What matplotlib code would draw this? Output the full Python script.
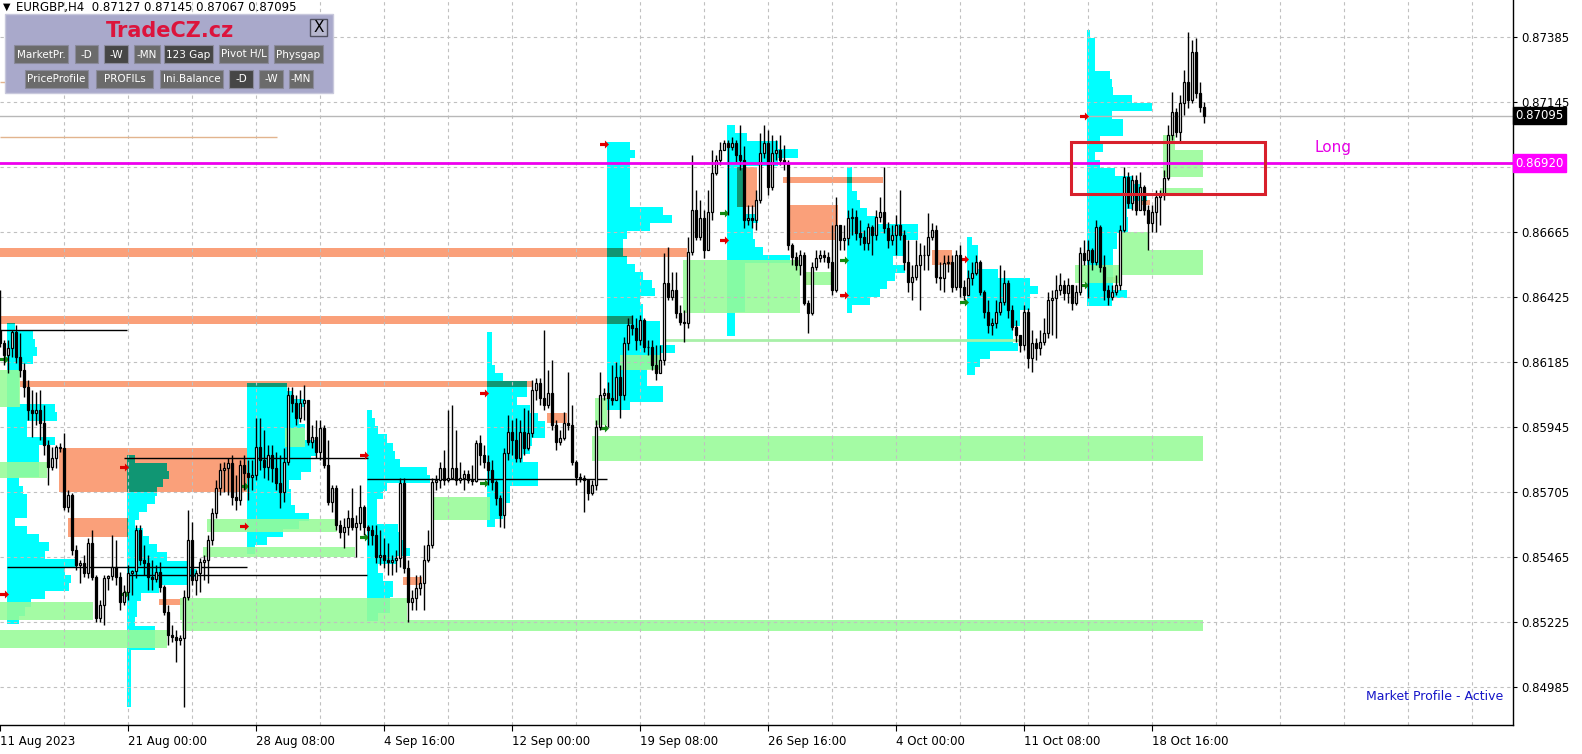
#!/usr/bin/env python3
"""Redraw the EURGBP H4 market profile chart (TradeCZ.cz panel) as out.png."""

import matplotlib

matplotlib.use("Agg")

import matplotlib.pyplot as plt
import numpy as np
from matplotlib.patches import Rectangle
from matplotlib.path import Path

FIG_W, FIG_H = 1582, 754

# --- candles (H4 bars, one per index) -------------------------------------
FIRST_OPEN = 0.86304
CLOSES = [
    0.86255, 0.86211, 0.86237, 0.86296, 0.86204, 0.86156, 0.86093, 0.86008, 0.85997, 0.86008,
    0.85960, 0.85879, 0.85798, 0.85831, 0.85872, 0.85868, 0.85650, 0.85694, 0.85491, 0.85436,
    0.85443, 0.85406, 0.85517, 0.85392, 0.85240, 0.85288, 0.85388, 0.85395, 0.85429, 0.85392,
    0.85299, 0.85336, 0.85406, 0.85414, 0.85565, 0.85454, 0.85443, 0.85392, 0.85384, 0.85410,
    0.85355, 0.85262, 0.85177, 0.85170, 0.85159, 0.85166, 0.85318, 0.85528, 0.85380, 0.85406,
    0.85447, 0.85454, 0.85528, 0.85628, 0.85720, 0.85787, 0.85794, 0.85812, 0.85687, 0.85676,
    0.85805, 0.85775, 0.85761, 0.85768, 0.85872, 0.85824, 0.85798, 0.85842, 0.85794, 0.85739,
    0.85705, 0.85816, 0.86063, 0.86034, 0.85979, 0.86034, 0.86045, 0.85890, 0.85909, 0.85853,
    0.85942, 0.85805, 0.85668, 0.85720, 0.85584, 0.85558, 0.85576, 0.85609, 0.85576, 0.85591,
    0.85650, 0.85576, 0.85565, 0.85547, 0.85465, 0.85473, 0.85454, 0.85447, 0.85454, 0.85462,
    0.85739, 0.85425, 0.85299, 0.85314, 0.85351, 0.85369, 0.85454, 0.85510, 0.85742, 0.85750,
    0.85794, 0.85750, 0.85757, 0.85794, 0.85750, 0.85757, 0.85772, 0.85750, 0.85746, 0.85886,
    0.85842, 0.85816, 0.85787, 0.85742, 0.85683, 0.85620, 0.85850, 0.85927, 0.85897, 0.85831,
    0.85927, 0.85868, 0.85923, 0.86082, 0.86108, 0.86052, 0.86027, 0.86071, 0.85953, 0.85890,
    0.85905, 0.85960, 0.85953, 0.85816, 0.85761, 0.85757, 0.85750, 0.85702, 0.85731, 0.85946,
    0.86063, 0.86071, 0.86052, 0.86045, 0.86130, 0.86063, 0.86255, 0.86322, 0.86311, 0.86267,
    0.86341, 0.86241, 0.86241, 0.86174, 0.86145, 0.86193, 0.86477, 0.86425, 0.86451, 0.86366,
    0.86333, 0.86330, 0.86592, 0.86747, 0.86647, 0.86717, 0.86599, 0.86739, 0.86883, 0.86931,
    0.86968, 0.86994, 0.86979, 0.86994, 0.86950, 0.86931, 0.86710, 0.86717, 0.86710, 0.86784,
    0.86957, 0.86994, 0.86832, 0.86957, 0.86968, 0.86931, 0.86920, 0.86617, 0.86573, 0.86544,
    0.86581, 0.86403, 0.86366, 0.86536, 0.86570, 0.86581, 0.86573, 0.86555, 0.86451, 0.86691,
    0.86636, 0.86643, 0.86717, 0.86721, 0.86662, 0.86647, 0.86625, 0.86684, 0.86654, 0.86721,
    0.86739, 0.86680, 0.86636, 0.86654, 0.86691, 0.86654, 0.86555, 0.86481, 0.86499, 0.86544,
    0.86581, 0.86581, 0.86647, 0.86673, 0.86499, 0.86496, 0.86551, 0.86555, 0.86462, 0.86581,
    0.86462, 0.86433, 0.86496, 0.86514, 0.86555, 0.86444, 0.86370, 0.86322, 0.86330, 0.86370,
    0.86407, 0.86477, 0.86377, 0.86315, 0.86285, 0.86248, 0.86370, 0.86200, 0.86255, 0.86237,
    0.86259, 0.86292, 0.86414, 0.86422, 0.86451, 0.86470, 0.86440, 0.86470, 0.86403, 0.86444,
    0.86588, 0.86562, 0.86599, 0.86555, 0.86684, 0.86536, 0.86451, 0.86425, 0.86444, 0.86470,
    0.86673, 0.86869, 0.86773, 0.86857, 0.86747, 0.86832, 0.86747, 0.86699, 0.86739, 0.86795,
    0.86802, 0.86865, 0.87024, 0.87108, 0.87035, 0.87142, 0.87219, 0.87153, 0.87330, 0.87179,
    0.87127, 0.87095,
]
HIGHS = [
    0.86451, 0.86267, 0.86267, 0.86304, 0.86322, 0.86292, 0.86182, 0.86119, 0.86082, 0.86075,
    0.86082, 0.86027, 0.85897, 0.85872, 0.85879, 0.85886, 0.85923, 0.85713, 0.85702, 0.85510,
    0.85454, 0.85473, 0.85536, 0.85565, 0.85399, 0.85307, 0.85399, 0.85399, 0.85547, 0.85528,
    0.85410, 0.85362, 0.85436, 0.85417, 0.85584, 0.85584, 0.85510, 0.85473, 0.85454, 0.85436,
    0.85447, 0.85362, 0.85288, 0.85214, 0.85196, 0.85177, 0.85344, 0.85639, 0.85595, 0.85417,
    0.85462, 0.85473, 0.85547, 0.85646, 0.85750, 0.85812, 0.85816, 0.85831, 0.85842, 0.85768,
    0.85824, 0.85842, 0.85824, 0.85824, 0.85979, 0.85979, 0.85934, 0.85879, 0.85879, 0.85853,
    0.85842, 0.85868, 0.86093, 0.86093, 0.86063, 0.86082, 0.86100, 0.86045, 0.85953, 0.85971,
    0.85971, 0.85953, 0.85897, 0.85731, 0.85731, 0.85602, 0.85609, 0.85639, 0.85720, 0.85620,
    0.85731, 0.85657, 0.85584, 0.85584, 0.85584, 0.85565, 0.85536, 0.85517, 0.85473, 0.85491,
    0.85757, 0.85757, 0.85454, 0.85344, 0.85399, 0.85399, 0.85510, 0.85565, 0.85757, 0.85768,
    0.85816, 0.85861, 0.86008, 0.86027, 0.85934, 0.85816, 0.85787, 0.85787, 0.85805, 0.85897,
    0.85916, 0.85879, 0.85842, 0.85824, 0.85750, 0.85694, 0.85868, 0.85990, 0.85971, 0.85979,
    0.85971, 0.86016, 0.86008, 0.86119, 0.86126, 0.86126, 0.86304, 0.86156, 0.86193, 0.85971,
    0.85934, 0.86001, 0.86149, 0.86027, 0.85824, 0.85776, 0.85768, 0.85750, 0.85750, 0.85971,
    0.86149, 0.86089, 0.86112, 0.86174, 0.86186, 0.86174, 0.86278, 0.86348, 0.86359, 0.86348,
    0.86359, 0.86348, 0.86267, 0.86267, 0.86248, 0.86248, 0.86588, 0.86610, 0.86518, 0.86518,
    0.86396, 0.86377, 0.86647, 0.86950, 0.86821, 0.86784, 0.86747, 0.86821, 0.86968, 0.86950,
    0.86998, 0.87005, 0.87005, 0.87016, 0.87005, 0.87061, 0.86984, 0.86765, 0.86765, 0.86821,
    0.87031, 0.87061, 0.87042, 0.87024, 0.87005, 0.87024, 0.86987, 0.86931, 0.86625, 0.86592,
    0.86599, 0.86592, 0.86414, 0.86555, 0.86599, 0.86599, 0.86599, 0.86592, 0.86691, 0.86795,
    0.86673, 0.86691, 0.86747, 0.86754, 0.86747, 0.86710, 0.86673, 0.86699, 0.86691, 0.86747,
    0.86795, 0.86905, 0.86702, 0.86691, 0.86728, 0.86821, 0.86673, 0.86636, 0.86544, 0.86636,
    0.86625, 0.86617, 0.86736, 0.86699, 0.86691, 0.86555, 0.86581, 0.86581, 0.86581, 0.86599,
    0.86617, 0.86488, 0.86525, 0.86555, 0.86581, 0.86562, 0.86451, 0.86414, 0.86348, 0.86414,
    0.86544, 0.86525, 0.86488, 0.86396, 0.86341, 0.86285, 0.86396, 0.86385, 0.86304, 0.86274,
    0.86304, 0.86348, 0.86444, 0.86451, 0.86507, 0.86514, 0.86488, 0.86496, 0.86470, 0.86470,
    0.86610, 0.86636, 0.86636, 0.86606, 0.86710, 0.86691, 0.86581, 0.86470, 0.86470, 0.86507,
    0.86691, 0.86905, 0.86887, 0.86876, 0.86876, 0.86887, 0.86839, 0.86765, 0.86765, 0.86821,
    0.86821, 0.86894, 0.87061, 0.87182, 0.87123, 0.87171, 0.87264, 0.87404, 0.87374, 0.87382,
    0.87219, 0.87145,
]
LOWS = [
    0.86241, 0.86174, 0.86145, 0.86204, 0.86182, 0.86130, 0.86056, 0.85971, 0.85909, 0.85953,
    0.85897, 0.85842, 0.85731, 0.85787, 0.85794, 0.85853, 0.85639, 0.85632, 0.85473, 0.85417,
    0.85369, 0.85392, 0.85388, 0.85380, 0.85225, 0.85225, 0.85214, 0.85344, 0.85380, 0.85362,
    0.85270, 0.85288, 0.85307, 0.85325, 0.85388, 0.85436, 0.85399, 0.85344, 0.85344, 0.85373,
    0.85336, 0.85251, 0.85140, 0.85152, 0.85078, 0.85140, 0.84912, 0.85307, 0.85362, 0.85325,
    0.85336, 0.85380, 0.85369, 0.85510, 0.85609, 0.85694, 0.85705, 0.85694, 0.85657, 0.85639,
    0.85657, 0.85713, 0.85676, 0.85713, 0.85750, 0.85787, 0.85757, 0.85750, 0.85742, 0.85713,
    0.85646, 0.85668, 0.85805, 0.86001, 0.85953, 0.85964, 0.85971, 0.85879, 0.85868, 0.85831,
    0.85824, 0.85794, 0.85657, 0.85632, 0.85565, 0.85536, 0.85499, 0.85547, 0.85565, 0.85465,
    0.85565, 0.85547, 0.85510, 0.85510, 0.85443, 0.85436, 0.85425, 0.85399, 0.85399, 0.85410,
    0.85429, 0.85406, 0.85225, 0.85270, 0.85270, 0.85325, 0.85270, 0.85447, 0.85499, 0.85713,
    0.85720, 0.85731, 0.85742, 0.85757, 0.85731, 0.85739, 0.85713, 0.85739, 0.85731, 0.85742,
    0.85805, 0.85794, 0.85731, 0.85713, 0.85657, 0.85576, 0.85572, 0.85824, 0.85842, 0.85816,
    0.85816, 0.85842, 0.85861, 0.85909, 0.86045, 0.86027, 0.86008, 0.86016, 0.85934, 0.85861,
    0.85879, 0.85897, 0.85934, 0.85805, 0.85731, 0.85742, 0.85632, 0.85676, 0.85694, 0.85713,
    0.85934, 0.86045, 0.85946, 0.86027, 0.86045, 0.85979, 0.86045, 0.86230, 0.86285, 0.86230,
    0.86248, 0.86222, 0.86211, 0.86156, 0.86119, 0.86174, 0.86174, 0.86414, 0.86414, 0.86348,
    0.86322, 0.86259, 0.86311, 0.86580, 0.86636, 0.86636, 0.86570, 0.86691, 0.86710, 0.86876,
    0.86913, 0.86968, 0.86728, 0.86968, 0.86924, 0.86894, 0.86680, 0.86691, 0.86680, 0.86673,
    0.86773, 0.86939, 0.86802, 0.86821, 0.86931, 0.86913, 0.86894, 0.86599, 0.86544, 0.86525,
    0.86507, 0.86396, 0.86293, 0.86359, 0.86525, 0.86555, 0.86555, 0.86533, 0.86433, 0.86444,
    0.86599, 0.86599, 0.86617, 0.86654, 0.86636, 0.86617, 0.86599, 0.86599, 0.86581, 0.86636,
    0.86702, 0.86662, 0.86606, 0.86617, 0.86581, 0.86636, 0.86525, 0.86444, 0.86414, 0.86488,
    0.86377, 0.86525, 0.86525, 0.86636, 0.86477, 0.86451, 0.86444, 0.86518, 0.86444, 0.86451,
    0.86425, 0.86414, 0.86433, 0.86470, 0.86507, 0.86433, 0.86348, 0.86293, 0.86285, 0.86311,
    0.86359, 0.86396, 0.86348, 0.86304, 0.86259, 0.86222, 0.86230, 0.86163, 0.86149, 0.86193,
    0.86211, 0.86248, 0.86274, 0.86285, 0.86274, 0.86433, 0.86414, 0.86403, 0.86377, 0.86396,
    0.86433, 0.86544, 0.86422, 0.86525, 0.86544, 0.86518, 0.86414, 0.86396, 0.86414, 0.86433,
    0.86451, 0.86665, 0.86754, 0.86747, 0.86728, 0.86765, 0.86728, 0.86599, 0.86665, 0.86665,
    0.86691, 0.86784, 0.86857, 0.87005, 0.87016, 0.86998, 0.87097, 0.87123, 0.87142, 0.87160,
    0.87108, 0.87067,
]

# --- weekly volume profiles (cyan histograms) ------------------------------
PROFILE_START = [2, 32, 62, 92, 122, 152, 182, 212, 242, 272]
PROFILE_TOP = [0.86329, 0.85842, 0.86108, 0.86008, 0.86296, 0.86998, 0.87060, 0.86905, 0.86647, 0.87411]
PROFILE_ROW = 0.0003
PROFILE_WIDTHS = [
    [2, 6.5, 7, 7.5, 6.5, 3, 3, 3, 3, 3, 12, 12.5, 5, 5, 12, 8, 8, 8, 8, 3, 4, 5, 5, 5, 2, 5,
     8, 10.5, 9.5, 17.5, 14.5, 16, 15.5, 9.5, 6, 4.5, 3],
    [2, 10, 10.5, 9, 7.5, 7, 5, 3, 2, 4, 5.5, 7.5, 10, 15, 17.5, 15, 8, 3.5, 2.5, 2.5, 2, 7, 7,
     7, 1, 1, 1, 1, 1, 1, 1],
    [10, 11.5, 14.5, 13, 13, 14.5, 14.5, 17.5, 17.5, 16, 16, 13.5, 10.5, 11, 11, 12, 15.5, 13,
     9, 5, 2],
    [1.25, 2, 2.75, 5, 6.5, 7, 8.25, 15, 15.75, 5, 4, 2.5, 2.5, 2.5, 7.75, 8.25, 9, 10.75, 7.5,
     2.75, 4, 6.5, 6.5, 5.75, 5.75, 2.75],
    [1.25, 1.25, 1.25, 1.25, 2, 4, 10, 10, 7.5, 10.75, 12.75, 14.5, 14.5, 11.25, 10.75, 9,
     12.75, 12.75, 12.75, 5.75, 5.75, 4, 4, 2],
    [5.75, 7, 5.75, 5.75, 5.75, 5.75, 5.75, 5.75, 14, 16.25, 10.75, 5, 4, 4, 5, 7, 9, 11.25, 12,
     8.25, 9, 9, 13.25, 13.25, 13.25, 17, 13.25, 13.25, 10, 10, 14, 14, 5.75],
    [2, 5, 12.75, 17.75, 12.75, 4.5, 4.5, 4.5, 4.5, 4.5, 4.5, 7.75, 6.5, 6.5, 7, 9, 15.75, 4.5,
     4.5, 4.5, 4.5, 4.5, 4.5, 2, 2, 2],
    [1.25, 1.25, 1.25, 2.5, 3.25, 5, 7.5, 17.75, 17.75, 14, 14, 11.5, 14.5, 12, 10, 8.25, 5.75,
     1.25],
    [1.25, 2.75, 2.75, 2.75, 7.75, 15.75, 17.75, 15.75, 15.75, 13.25, 13.25, 11.5, 11.5, 12.75,
     5.75, 3.25, 2],
    [0.75, 2, 2, 2, 2, 5.75, 6.25, 6.5, 11.25, 16.25, 6.25, 9, 9, 3.25, 4, 2, 3.25, 7, 11.5,
     13.25, 15, 11.5, 10, 10.25, 10.25, 7.5, 7.5, 6.5, 6.5, 6.5, 6.5, 6.5, 10, 6.25],
]
RED_ARROW = [0.85329, 0.85798, 0.85580, 0.85842, 0.86071, 0.86990, 0.86636, 0.86433, 0.86566, 0.87094]
GREEN_ARROW = [0.86196, 0.85329, 0.85728, 0.85539, 0.85739, 0.85942, 0.86736, 0.86562, 0.86407, 0.86470]

# --- zones: (bar from, bar to, price low, price high) ----------------------
SALMON_ZONES = [
    (0, 171.75, 0.86573, 0.86606), (0, 158, 0.86326, 0.86355), (5, 133, 0.86093, 0.86115),
    (14.75, 61.75, 0.85705, 0.85868), (17, 32, 0.85539, 0.85609), (39.75, 45.5, 0.85288, 0.85310),
    (136.75, 141.75, 0.85960, 0.85997), (100.75, 105.5, 0.85362, 0.85392),
    (195.75, 220.75, 0.86846, 0.86869), (196.75, 209.5, 0.86636, 0.86765),
    (184.25, 189.25, 0.86758, 0.86905), (200.75, 203.25, 0.86470, 0.86518),
    (233, 238, 0.86544, 0.86599), (276.75, 278.75, 0.86477, 0.86499),
    (285.5, 287.5, 0.86765, 0.86784),
]
GREEN_ZONES = [
    (148, 300.75, 0.85820, 0.85912), (45.5, 300.75, 0.85192, 0.85233), (45, 101.75, 0.85233, 0.85314),
    (0, 41.75, 0.85129, 0.85196), (0, 23.25, 0.85233, 0.85299), (0, 11.75, 0.85757, 0.85816),
    (0, 5, 0.86019, 0.86156), (50.75, 88.75, 0.85465, 0.85502), (51.75, 84.25, 0.85558, 0.85606),
    (108, 122.5, 0.85602, 0.85687), (170.75, 200, 0.86366, 0.86562), (155, 165, 0.86156, 0.86211),
    (148.75, 151.75, 0.85953, 0.86052), (290.75, 300.75, 0.86869, 0.86968),
    (290.75, 293.75, 0.86968, 0.87024), (290, 300.75, 0.86802, 0.86828),
    (280, 300.75, 0.86507, 0.86599), (280, 287, 0.86599, 0.86665), (268.75, 280, 0.86477, 0.86544),
    (71.25, 76.25, 0.85872, 0.85942), (200.75, 208, 0.86470, 0.86518),
]
GREEN_LINE = (165.75, 255, 0.86267)
BLACK_LINES = [
    (0, 31.75, 0.86304), (1.75, 61.75, 0.85429), (31.75, 91.75, 0.85399),
    (31, 92, 0.85831), (91.75, 151.75, 0.85753),
]
TAN_LINES = [(0, 69.25, 0.87016), (0, 69.25, 0.87219)]

LAST_PRICE = 0.87095
LONG_LEVEL = 0.86920
LONG_BOX = (267.75, 316.25, 0.86806, 0.86998)

GRID_LEVELS = [0.84985, 0.85225, 0.85465, 0.85705, 0.85945, 0.86185, 0.86425, 0.86665,
               0.86905, 0.87145, 0.87385]
DATE_TICKS = [0, 32, 64, 96, 128, 160, 192, 224, 256, 288]
DATE_LABELS = ["11 Aug 2023", "21 Aug 00:00", "28 Aug 08:00", "4 Sep 16:00", "12 Sep 00:00",
               "19 Sep 08:00", "26 Sep 16:00", "4 Oct 00:00", "11 Oct 08:00", "18 Oct 16:00"]

CYAN = "#00FFFF"
SALMON = "#FAA07A"
TEAL = "#109673"
PALE_GREEN = "#98FB98"


def arrow_marker() -> Path:
    verts = [(-1, -0.35), (0.1, -0.35), (0.1, -0.9), (1, 0), (0.1, 0.9), (0.1, 0.35), (-1, 0.35), (-1, -0.35)]
    return Path(verts, closed=True)


def px_box(fig, x0, y0, x1, y1, **kw):
    fig.add_artist(Rectangle((x0 / FIG_W, 1 - y1 / FIG_H), (x1 - x0) / FIG_W, (y1 - y0) / FIG_H,
                             transform=fig.transFigure, **kw))


def px_text(fig, x, y, s, **kw):
    fig.text(x / FIG_W, 1 - y / FIG_H, s, **kw)


def draw_profiles(ax):
    rows = []
    for start, top, widths in zip(PROFILE_START, PROFILE_TOP, PROFILE_WIDTHS):
        left = start - 0.25
        for i, w in enumerate(widths):
            hi = top - i * PROFILE_ROW
            rows.append((left, left + w, hi - PROFILE_ROW, hi))
    for x0, x1, lo, hi in rows:
        ax.barh(lo, x1 - x0, left=x0, height=hi - lo, align="edge", color=CYAN, lw=0, zorder=1)

    for x0, x1, lo, hi in SALMON_ZONES:
        ax.barh(lo, x1 - x0, left=x0, height=hi - lo, align="edge", color=SALMON, lw=0, zorder=1.2)
        # where a zone crosses a profile the terminal paints it dark teal
        for r0, r1, rlo, rhi in rows:
            ox0, ox1 = max(x0, r0), min(x1, r1)
            olo, ohi = max(lo, rlo), min(hi, rhi)
            if ox1 > ox0 and ohi > olo:
                ax.barh(olo, ox1 - ox0, left=ox0, height=ohi - olo, align="edge", color=TEAL, lw=0, zorder=1.3)

    for x0, x1, lo, hi in GREEN_ZONES:
        ax.barh(lo, x1 - x0, left=x0, height=hi - lo, align="edge", color=PALE_GREEN, alpha=0.88,
                lw=0, zorder=1.4)
    ax.hlines(GREEN_LINE[2], GREEN_LINE[0], GREEN_LINE[1], color="#A8F0A8", lw=2, zorder=1.4)

    starts = np.array(PROFILE_START) - 0.9
    marker = arrow_marker()
    ax.scatter(starts, RED_ARROW, marker=marker, s=42, color="#E00000", lw=0, zorder=4)
    ax.scatter(starts, GREEN_ARROW, marker=marker, s=42, color="#138A13", lw=0, zorder=4)


def draw_candles(ax):
    closes = np.array(CLOSES)
    opens = np.r_[FIRST_OPEN, closes[:-1]]
    highs = np.maximum(np.array(HIGHS), np.maximum(opens, closes))
    lows = np.minimum(np.array(LOWS), np.minimum(opens, closes))
    x = np.arange(len(closes))
    up = closes >= opens

    ax.vlines(x, lows, highs, color="black", lw=1, zorder=5)
    ax.bar(x[up], (closes - opens)[up], bottom=opens[up], width=0.55, color="white",
           edgecolor="black", lw=0.9, zorder=6)
    ax.bar(x[~up], (closes - opens)[~up], bottom=opens[~up], width=0.55, color="black",
           edgecolor="black", lw=0.9, zorder=6)


def draw_panel(fig):
    px_text(fig, 3, 7, "\u25bc", fontsize=7, va="center", ha="left", color="black")
    px_text(fig, 16, 7, "EURGBP,H4  0.87127 0.87145 0.87067 0.87095", fontsize=8.5,
            va="center", ha="left", color="black")

    px_box(fig, 5, 14, 333, 93, facecolor="#A9A9CB", edgecolor="#C8C8DC", lw=1, zorder=10)
    px_text(fig, 170, 31, "TradeCZ.cz", fontsize=15, fontweight="bold", color="#DC143C",
            ha="center", va="center", zorder=11)
    px_box(fig, 310, 19, 327, 36, facecolor="#B6B6CE", edgecolor="#505060", lw=1, zorder=11)
    px_text(fig, 318.5, 27.5, "X", fontsize=11, color="black", ha="center", va="center", zorder=12)

    buttons = [
        ("MarketPr.", 14, 68, 45, 63, False), ("-D", 75, 98, 45, 63, False),
        ("-W", 104, 128, 45, 63, True), ("-MN", 134, 160, 45, 63, False),
        ("123 Gap", 164, 213, 45, 63, True), ("Pivot H/L", 219, 268, 45, 63, False),
        ("Physgap", 274, 323, 45, 63, False),
        ("PriceProfile", 25, 88, 70, 88, False), ("PROFILs", 96, 153, 70, 88, False),
        ("Ini.Balance", 160, 223, 70, 88, False), ("-D", 229, 253, 70, 88, True),
        ("-W", 259, 283, 70, 88, False), ("-MN", 289, 313, 70, 88, False),
    ]
    for label, x0, x1, y0, y1, pressed in buttons:
        px_box(fig, x0, y0, x1, y1, facecolor="#464646" if pressed else "#6B6B6B",
               edgecolor="#8A8A9A", lw=0.8, zorder=11)
        px_text(fig, (x0 + x1) / 2, (y0 + y1) / 2 + 0.5, label, fontsize=7.5, color="white",
                ha="center", va="center", zorder=12)


def main() -> None:
    plt.rcParams["font.family"] = ["DejaVu Sans"]
    fig = plt.figure(figsize=(FIG_W / 100, FIG_H / 100), dpi=100)
    ax = fig.add_axes([0, 29 / FIG_H, 1513 / FIG_W, 725 / FIG_H])
    ax.set_xlim(0, 378.25)
    ax.set_ylim(0.84845, 0.87522)

    for level in GRID_LEVELS:
        ax.axhline(level, color="#C0C0C0", lw=0.8, dashes=(3, 3), zorder=2)
    for bar in range(16, 378, 16):
        ax.axvline(bar, color="#C0C0C0", lw=0.8, dashes=(3, 3), zorder=2)

    draw_profiles(ax)
    for x0, x1, level in BLACK_LINES:
        ax.hlines(level, x0, x1, color="black", lw=1, zorder=2.5)
    for x0, x1, level in TAN_LINES:
        ax.hlines(level, x0, x1, color="#E2B48E", lw=1, zorder=2.5)
    ax.axhline(LAST_PRICE, color="#B8B8B8", lw=1, zorder=2.5)

    draw_candles(ax)

    ax.axhline(LONG_LEVEL, color="#EE00EE", lw=2, zorder=7)
    bx0, bx1, blo, bhi = LONG_BOX
    ax.add_patch(Rectangle((bx0, blo), bx1 - bx0, bhi - blo, fill=False, edgecolor="#D8202C",
                           lw=2.2, zorder=8))
    ax.text(328.75, 0.86976, "Long", color="#E600E6", fontsize=11, va="center", ha="left", zorder=8)
    ax.text(375.75, 0.84952, "Market Profile - Active", color="#1414C8", fontsize=9,
            va="center", ha="right", zorder=8)

    # axes: price scale on the right, dates below
    for side in ("left", "top"):
        ax.spines[side].set_visible(False)
    for side in ("right", "bottom"):
        ax.spines[side].set_linewidth(1)
    ax.yaxis.tick_right()
    ax.set_yticks(GRID_LEVELS, [f"{v:.5f}" if v != 0.86905 else "" for v in GRID_LEVELS])
    ax.set_xticks(DATE_TICKS, DATE_LABELS, ha="left")
    ax.tick_params(axis="y", length=3, pad=3, labelsize=8.5)
    ax.tick_params(axis="x", length=4, pad=3, labelsize=8.5)

    for price, face in ((LAST_PRICE, "black"), (LONG_LEVEL, "#FF00FF")):
        ax.text(1.0015, price, f"{price:.5f}", transform=ax.get_yaxis_transform(), fontsize=8.5,
                color="white", va="center", ha="left", clip_on=False, zorder=9,
                bbox=dict(boxstyle="square,pad=0.18", facecolor=face, edgecolor=face))

    draw_panel(fig)
    fig.savefig("out.png", dpi=100)
    plt.close(fig)


if __name__ == "__main__":
    main()
